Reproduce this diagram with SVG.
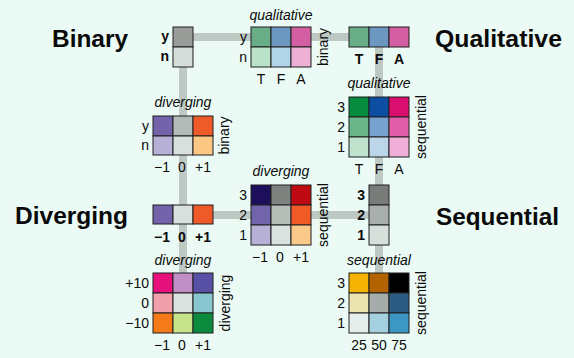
<svg xmlns="http://www.w3.org/2000/svg" width="574" height="358" viewBox="0 0 574 358">
<style>
text{font-family:"Liberation Sans",Arial,sans-serif;fill:#0a0a0a}
.t{font-size:23px;font-weight:bold}
.s{font-size:14px}
.b{font-size:14px;font-weight:bold}
.i{font-size:14px;font-style:italic}
.r{font-size:14px}
.m{text-anchor:middle}
.e{text-anchor:end}
.c{stroke:#1e1e1e;stroke-width:1}
.ln{stroke:#bec9c4;stroke-width:8;fill:none}
</style>
<rect width="574" height="358" fill="#ebfaf4"/>
<g id="connectors">
<line class="ln" x1="193" y1="37" x2="251" y2="37"/>
<line class="ln" x1="311" y1="37" x2="349" y2="37"/>
<line class="ln" x1="183" y1="67" x2="183" y2="205"/>
<line class="ln" x1="183" y1="224" x2="183" y2="273"/>
<line class="ln" x1="213" y1="215" x2="251" y2="215"/>
<line class="ln" x1="311" y1="215" x2="369" y2="215"/>
<line class="ln" x1="379" y1="47" x2="379" y2="185"/>
<line class="ln" x1="379" y1="245" x2="379" y2="273"/>
</g>
<g id="binary">
<rect class="c" x="173" y="27" width="20" height="20" fill="#9a9c9a"/>
<rect class="c" x="173" y="47" width="20" height="20" fill="#d4ddd9"/>
<text class="b e" x="169" y="41">y</text>
<text class="b e" x="169" y="61">n</text>
<text class="t e" x="128" y="47" textLength="76" lengthAdjust="spacingAndGlyphs">Binary</text>
</g>
<g id="qualitative">
<rect class="c" x="349" y="27" width="20" height="20" fill="#6aae88"/>
<rect class="c" x="369" y="27" width="20" height="20" fill="#6b97c1"/>
<rect class="c" x="389" y="27" width="20" height="20" fill="#d45ea2"/>
<text class="b m" x="359" y="64">T</text>
<text class="b m" x="379" y="64">F</text>
<text class="b m" x="399" y="64">A</text>
<text class="t" x="435" y="47" textLength="127" lengthAdjust="spacingAndGlyphs">Qualitative</text>
</g>
<g id="diverging">
<rect class="c" x="153" y="205" width="20" height="19" fill="#7263ab"/>
<rect class="c" x="173" y="205" width="20" height="19" fill="#d7e0dc"/>
<rect class="c" x="193" y="205" width="20" height="19" fill="#ef5a29"/>
<text class="b m" x="162" y="242">−1</text>
<text class="b m" x="182" y="242">0</text>
<text class="b m" x="203" y="242">+1</text>
<text class="t e" x="128" y="224" textLength="113" lengthAdjust="spacingAndGlyphs">Diverging</text>
</g>
<g id="sequential">
<rect class="c" x="369" y="185" width="20" height="20" fill="#7a7c7a"/>
<rect class="c" x="369" y="205" width="20" height="20" fill="#a8afac"/>
<rect class="c" x="369" y="225" width="20" height="20" fill="#d7dfdb"/>
<text class="b e" x="365" y="200">3</text>
<text class="b e" x="365" y="220">2</text>
<text class="b e" x="365" y="240">1</text>
<text class="t" x="436" y="225" textLength="123" lengthAdjust="spacingAndGlyphs">Sequential</text>
</g>
<g id="qual-binary">
<rect class="c" x="251" y="27" width="20" height="20" fill="#6aae88"/>
<rect class="c" x="271" y="27" width="20" height="20" fill="#6b97c1"/>
<rect class="c" x="291" y="27" width="20" height="20" fill="#d45ea2"/>
<rect class="c" x="251" y="47" width="20" height="20" fill="#b9e2c9"/>
<rect class="c" x="271" y="47" width="20" height="20" fill="#b2d4e8"/>
<rect class="c" x="291" y="47" width="20" height="20" fill="#eeb0d5"/>
<text class="i m" x="281" y="20">qualitative</text>
<text class="s e" x="247" y="42">y</text>
<text class="s e" x="247" y="62">n</text>
<text class="s m" x="261" y="84">T</text>
<text class="s m" x="281" y="84">F</text>
<text class="s m" x="301" y="84">A</text>
<text class="r m" transform="translate(328,47) rotate(-90)">binary</text>
</g>
<g id="binary-diverging">
<rect class="c" x="153" y="116" width="20" height="20" fill="#7263ab"/>
<rect class="c" x="173" y="116" width="20" height="20" fill="#b3bbb8"/>
<rect class="c" x="193" y="116" width="20" height="20" fill="#ef5a29"/>
<rect class="c" x="153" y="136" width="20" height="19" fill="#b7b0d6"/>
<rect class="c" x="173" y="136" width="20" height="19" fill="#d7e0dc"/>
<rect class="c" x="193" y="136" width="20" height="19" fill="#fbc884"/>
<text class="i m" x="183" y="107">diverging</text>
<text class="s e" x="149" y="131">y</text>
<text class="s e" x="149" y="150">n</text>
<text class="s m" x="162" y="172">−1</text>
<text class="s m" x="182" y="172">0</text>
<text class="s m" x="203" y="172">+1</text>
<text class="r m" transform="translate(229,135.5) rotate(-90)">binary</text>
</g>
<g id="diverging-sequential">
<rect class="c" x="251" y="185" width="20" height="20" fill="#1d0f5b"/>
<rect class="c" x="271" y="185" width="20" height="20" fill="#7f817f"/>
<rect class="c" x="291" y="185" width="20" height="20" fill="#bf0a13"/>
<rect class="c" x="251" y="205" width="20" height="20" fill="#7365ab"/>
<rect class="c" x="271" y="205" width="20" height="20" fill="#b6bdb9"/>
<rect class="c" x="291" y="205" width="20" height="20" fill="#ef5a26"/>
<rect class="c" x="251" y="225" width="20" height="20" fill="#b8b1d7"/>
<rect class="c" x="271" y="225" width="20" height="20" fill="#d9e2de"/>
<rect class="c" x="291" y="225" width="20" height="20" fill="#fbc98a"/>
<text class="i m" x="281" y="176">diverging</text>
<text class="s e" x="247" y="200">3</text>
<text class="s e" x="247" y="220">2</text>
<text class="s e" x="247" y="240">1</text>
<text class="s m" x="260" y="262">−1</text>
<text class="s m" x="280" y="262">0</text>
<text class="s m" x="301" y="262">+1</text>
<text class="r m" transform="translate(328,215) rotate(-90)">sequential</text>
</g>
<g id="qual-sequential">
<rect class="c" x="349" y="97" width="20" height="20" fill="#078b3f"/>
<rect class="c" x="369" y="97" width="20" height="20" fill="#0b4ea2"/>
<rect class="c" x="389" y="97" width="20" height="20" fill="#d80f6f"/>
<rect class="c" x="349" y="117" width="20" height="20" fill="#6bb58b"/>
<rect class="c" x="369" y="117" width="20" height="20" fill="#77a2cf"/>
<rect class="c" x="389" y="117" width="20" height="20" fill="#e35ea8"/>
<rect class="c" x="349" y="137" width="20" height="20" fill="#bfe3cc"/>
<rect class="c" x="369" y="137" width="20" height="20" fill="#bcd6e9"/>
<rect class="c" x="389" y="137" width="20" height="20" fill="#efafd6"/>
<text class="i m" x="379" y="88">qualitative</text>
<text class="s e" x="345" y="112">3</text>
<text class="s e" x="345" y="132">2</text>
<text class="s e" x="345" y="152">1</text>
<text class="s m" x="359" y="174">T</text>
<text class="s m" x="379" y="174">F</text>
<text class="s m" x="399" y="174">A</text>
<text class="r m" transform="translate(426,127) rotate(-90)">sequential</text>
</g>
<g id="diverging-diverging">
<rect class="c" x="153" y="273" width="20" height="20" fill="#e7117d"/>
<rect class="c" x="173" y="273" width="20" height="20" fill="#c08fc5"/>
<rect class="c" x="193" y="273" width="20" height="20" fill="#5850a4"/>
<rect class="c" x="153" y="293" width="20" height="20" fill="#efa0ab"/>
<rect class="c" x="173" y="293" width="20" height="20" fill="#d9e2de"/>
<rect class="c" x="193" y="293" width="20" height="20" fill="#8ac6cf"/>
<rect class="c" x="153" y="313" width="20" height="20" fill="#f57a19"/>
<rect class="c" x="173" y="313" width="20" height="20" fill="#c6e48a"/>
<rect class="c" x="193" y="313" width="20" height="20" fill="#0c8b3f"/>
<text class="i m" x="183" y="265">diverging</text>
<text class="s e" x="149" y="288">+10</text>
<text class="s e" x="149" y="308">0</text>
<text class="s e" x="149" y="328">−10</text>
<text class="s m" x="162" y="350">−1</text>
<text class="s m" x="182" y="350">0</text>
<text class="s m" x="203" y="350">+1</text>
<text class="r m" transform="translate(230,303) rotate(-90)">diverging</text>
</g>
<g id="sequential-sequential">
<rect class="c" x="349" y="273" width="20" height="20" fill="#f3b300"/>
<rect class="c" x="369" y="273" width="20" height="20" fill="#b36200"/>
<rect class="c" x="389" y="273" width="20" height="20" fill="#000000"/>
<rect class="c" x="349" y="293" width="20" height="20" fill="#ebe3b0"/>
<rect class="c" x="369" y="293" width="20" height="20" fill="#a5acaa"/>
<rect class="c" x="389" y="293" width="20" height="20" fill="#2c5c82"/>
<rect class="c" x="349" y="313" width="20" height="20" fill="#e6eeec"/>
<rect class="c" x="369" y="313" width="20" height="20" fill="#a4d0e0"/>
<rect class="c" x="389" y="313" width="20" height="20" fill="#3d97c3"/>
<text class="i m" x="379" y="265">sequential</text>
<text class="s e" x="345" y="288">3</text>
<text class="s e" x="345" y="308">2</text>
<text class="s e" x="345" y="328">1</text>
<text class="s m" x="359" y="350">25</text>
<text class="s m" x="379" y="350">50</text>
<text class="s m" x="399" y="350">75</text>
<text class="r m" transform="translate(426,303) rotate(-90)">sequential</text>
</g>
</svg>
